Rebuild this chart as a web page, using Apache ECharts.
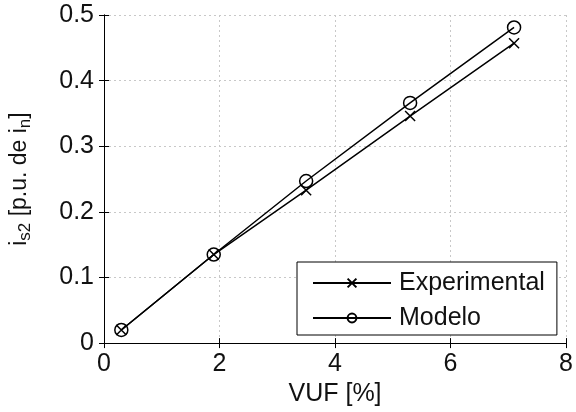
<!DOCTYPE html>
<html>
<head>
<meta charset="utf-8">
<script src="https://cdn.jsdelivr.net/npm/echarts@6/dist/echarts.min.js"></script>
<style>
  html, body { margin: 0; padding: 0; background: #fff; }
  #chart { width: 576px; height: 412px; }
</style>
</head>
<body>
<div id="chart"></div>
<script>
// VUF [%] e corriente de secuencia negativa
const vuf = [0.3, 1.9, 3.5, 5.3, 7.1];
const experimental = [0.02, 0.135, 0.233, 0.346, 0.457];
const modelo = [0.02, 0.135, 0.247, 0.366, 0.481];
const xTicks = [0, 2, 4, 6, 8];

const FONT = 'Liberation Sans, Arial, sans-serif';
const FS = 25;
const crossPath = 'path://M0,0L10,10M10,0L0,10';

const pairs = (xs, ys) => xs.map((x, i) => [x, ys[i]]);

const myChart = echarts.init(document.getElementById('chart'));

const gridLine = { show: true, lineStyle: { color: '#c8c8c8', type: [2, 3], width: 1 } };

myChart.setOption({
  animation: false,
  backgroundColor: '#fff',
  grid: { left: 104, right: 8, top: 15, bottom: 65 },
  legend: {
    orient: 'vertical',
    left: 297,
    top: 262,
    padding: [7, 12, 3, 15],
    itemGap: 7,
    itemWidth: 78,
    itemHeight: 11,
    backgroundColor: '#fff',
    borderColor: '#000',
    borderWidth: 1,
    borderRadius: 0,
    textStyle: { fontFamily: FONT, fontSize: FS, color: '#111', lineHeight: 28, padding: [0, 0, 0, 3] },
    data: ['Experimental', 'Modelo']
  },
  xAxis: [
    {
      type: 'value',
      min: 0, max: 8, interval: 2,
      name: 'VUF [%]',
      nameLocation: 'middle',
      nameGap: 37,
      nameTextStyle: { fontFamily: FONT, fontSize: FS, color: '#111' },
      axisLine: { lineStyle: { color: '#000', width: 1 } },
      axisTick: { inside: true, length: 5, lineStyle: { color: '#000' } },
      axisLabel: { fontFamily: FONT, fontSize: FS, color: '#111', margin: 9,
        formatter: v => (xTicks.indexOf(v) >= 0 ? String(v) : '') },
      splitLine: gridLine
    },
    {
      type: 'value', position: 'top',
      min: 0, max: 8, interval: 2,
      axisLine: { show: true, lineStyle: { color: '#000', width: 1 } },
      axisTick: { show: true, inside: true, length: 5, lineStyle: { color: '#000' } },
      axisLabel: { show: false },
      splitLine: { show: false }
    }
  ],
  yAxis: [
    {
      type: 'value',
      min: 0, max: 0.5, interval: 0.1,
      name: '{n|i}{s|s2}{n| [p.u. de i}{s|n}{n|]}',
      nameLocation: 'middle',
      nameGap: 70,
      nameTextStyle: {
        fontFamily: FONT, fontSize: 23, color: '#111',
        rich: {
          n: { fontFamily: FONT, fontSize: 23, color: '#111', lineHeight: 28 },
          s: { fontFamily: FONT, fontSize: 17, color: '#111', lineHeight: 17, verticalAlign: 'bottom' }
        }
      },
      axisLine: { show: true, lineStyle: { color: '#000', width: 1 } },
      axisTick: { show: true, inside: true, length: 5, lineStyle: { color: '#000' } },
      axisLabel: { fontFamily: FONT, fontSize: FS, color: '#111', margin: 10 },
      splitLine: gridLine
    },
    {
      type: 'value', position: 'right',
      min: 0, max: 0.5, interval: 0.1,
      axisLine: { show: true, lineStyle: { color: '#000', width: 1 } },
      axisTick: { show: true, inside: true, length: 5, lineStyle: { color: '#000' } },
      axisLabel: { show: false },
      splitLine: { show: false }
    }
  ],
  series: [
    {
      name: 'Experimental',
      type: 'line',
      data: pairs(vuf, experimental),
      symbol: crossPath,
      symbolSize: 10,
      lineStyle: { color: '#000', width: 1.5 },
      itemStyle: { color: '#000', borderColor: '#000', borderWidth: 1.5 },
      z: 3
    },
    {
      name: 'Modelo',
      type: 'line',
      data: pairs(vuf, modelo),
      symbol: 'circle',
      symbolSize: 13,
      lineStyle: { color: '#000', width: 1.5 },
      itemStyle: { color: 'rgba(255,255,255,0)', borderColor: '#000', borderWidth: 1.5 },
      z: 2
    }
  ]
});

window.addEventListener('resize', () => {
  myChart.resize();
});
</script>
</body>
</html>
